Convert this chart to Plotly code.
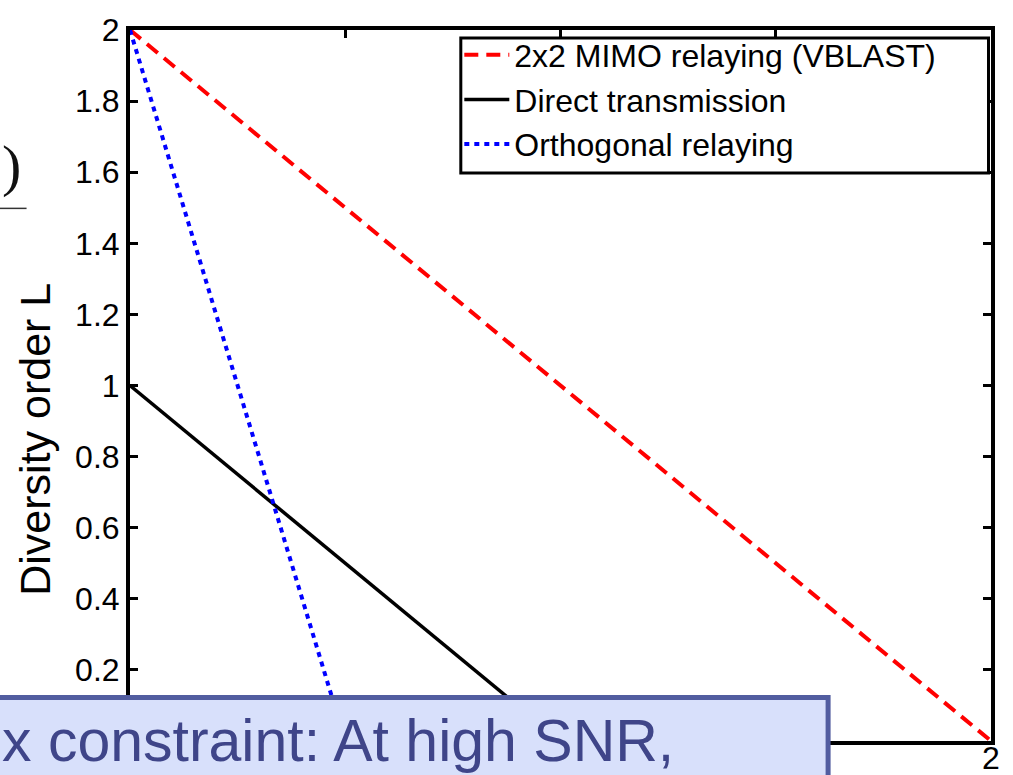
import plotly.graph_objects as go

# ---- data ----
r_mimo = [0, 2]
d_mimo = [2, 0]
r_direct = [0, 1]
d_direct = [1, 0]
r_orth = [0, 0.5]
d_orth = [2, 0]

series_names = ["2x2 MIMO relaying (VBLAST)", "Direct transmission", "Orthogonal relaying"]
y_tickvals = [0, 0.2, 0.4, 0.6, 0.8, 1, 1.2, 1.4, 1.6, 1.8, 2]
y_ticktext = ["0", "0.2", "0.4", "0.6", "0.8", "1", "1.2", "1.4", "1.6", "1.8", "2"]
x_tickvals = [0, 0.5, 1, 1.5, 2]
x_ticktext = ["0", "0.5", "1", "1.5", "2"]

y_title = "Diversity order L"
overlay_text = "x constraint: At high SNR,"

# ---- layout geometry ----
W, H = 1013, 775
L, R, T, B = 129.5, 22, 29.5, 34
PW, PH = W - L - R, H - T - B


def px_x(p):
    return (p - L) / PW


def px_y(p):
    return (H - B - p) / PH


FONT = "Liberation Sans, Arial, Helvetica, sans-serif"

fig = go.Figure()
fig.add_trace(go.Scatter(x=r_mimo, y=d_mimo, mode="lines", name=series_names[0],
                         line=dict(color="#ff0000", width=4, dash="14px,8px")))
fig.add_trace(go.Scatter(x=r_direct, y=d_direct, mode="lines", name=series_names[1],
                         line=dict(color="#000000", width=3.5)))
fig.add_trace(go.Scatter(x=r_orth, y=d_orth, mode="lines", name=series_names[2],
                         line=dict(color="#0000ff", width=4, dash="5px,5px")))

axis_common = dict(
    showline=True, linecolor="black", linewidth=4, mirror="ticks",
    ticks="inside", ticklen=8, tickwidth=2.5, tickcolor="black",
    showgrid=False, zeroline=False, automargin=False,
    tickfont=dict(family=FONT, size=32, color="black"),
)

fig.update_xaxes(range=[0, 2], tickvals=x_tickvals, ticktext=x_ticktext,
                 ticklabelstandoff=-14, **axis_common)
fig.update_yaxes(range=[0, 2], tickvals=y_tickvals, ticktext=y_ticktext, **axis_common)

fig.update_layout(
    width=W, height=H,
    margin=dict(l=L, r=R, t=T, b=B, pad=0, autoexpand=False),
    paper_bgcolor="white", plot_bgcolor="white",
    showlegend=True,
    legend=dict(
        x=px_x(459), y=px_y(27), xanchor="left", yanchor="top",
        bgcolor="rgba(0,0,0,0)", borderwidth=0,
        font=dict(family=FONT, size=32, color="black"),
        itemwidth=45, tracegroupgap=0,
    ),
    shapes=[
        # legend frame
        dict(type="rect", xref="paper", yref="paper",
             x0=px_x(460.5), x1=px_x(988.5), y0=px_y(172.5), y1=px_y(37.5),
             fillcolor="white", line=dict(color="black", width=3), layer="above"),
        # overlay text box from the slide
        dict(type="rect", xref="paper", yref="paper",
             x0=px_x(-100), x1=px_x(828), y0=px_y(900), y1=px_y(697.5),
             fillcolor="#d8e0fb", line=dict(color="#525da0", width=5), layer="above"),
        # fraction bar fragment at left
        dict(type="line", xref="paper", yref="paper",
             x0=px_x(-5), x1=px_x(26), y0=px_y(208), y1=px_y(208),
             line=dict(color="#333333", width=1.5), layer="above"),
    ],
    annotations=[
        dict(text=y_title, xref="paper", yref="paper", x=px_x(35), y=px_y(439),
             xanchor="center", yanchor="middle", textangle=-90, showarrow=False,
             font=dict(family=FONT, size=43, color="black")),
        dict(text=overlay_text, xref="paper", yref="paper", x=px_x(-1), y=px_y(741),
             xanchor="left", yanchor="middle", showarrow=False,
             font=dict(family=FONT, size=59, color="#3f4589")),
        dict(text=")", xref="paper", yref="paper", x=px_x(11), y=px_y(165),
             xanchor="center", yanchor="middle", showarrow=False,
             font=dict(family="Liberation Serif, Times New Roman, serif", size=58, color="#111111")),
    ],
)

fig.write_html("out.html", config={"displayModeBar": False},
               post_script="document.body.style.margin='0';document.body.style.overflow='hidden';")
